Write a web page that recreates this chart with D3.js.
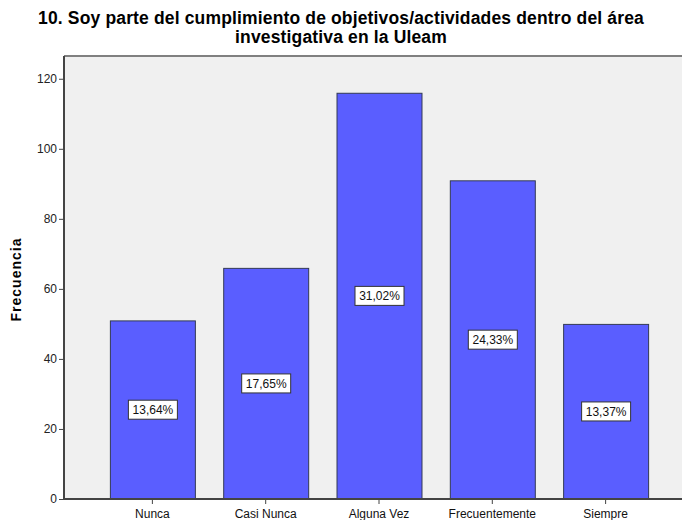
<!DOCTYPE html>
<html>
<head>
<meta charset="utf-8">
<script src="https://cdn.jsdelivr.net/npm/d3@7"></script>
<style>
html,body{margin:0;padding:0;background:#fff;}
svg{display:block;font-family:Arial,"Liberation Sans",sans-serif;}
</style>
</head>
<body>
<div id="chart"></div>
<script>
const categories = ["Nunca", "Casi Nunca", "Alguna Vez", "Frecuentemente", "Siempre"];
const counts = [51, 66, 116, 91, 50];
const percentLabels = ["13,64%", "17,65%", "31,02%", "24,33%", "13,37%"];
const yTicks = [0, 20, 40, 60, 80, 100, 120];
const titleLines = ["10. Soy parte del cumplimiento de objetivos/actividades dentro del área", "investigativa en la Uleam"];
const yTitle = "Frecuencia";

(function () {
const W = 682, H = 520;
const pL = 64, pT = 56, pB = 499, pR = 694;
const FF = "Arial, 'Liberation Sans', sans-serif";

const svg = d3.select("#chart").append("svg").attr("width", W).attr("height", H);

// plot background
svg.append("rect").attr("x", pL).attr("y", pT).attr("width", pR - pL).attr("height", pB - pT)
  .attr("fill", "#f0f0f0");
svg.append("line").attr("x1", pL).attr("x2", pR).attr("y1", pT).attr("y2", pT)
  .attr("stroke", "#808080").attr("stroke-width", 2);

const x = d3.scaleBand().domain(categories).range([pL, pR]).paddingInner(0.25).paddingOuter(0.405);
const y = d3.scaleLinear().domain([0, 126.5]).range([pB, pT]);

// bars
svg.append("g").selectAll("rect").data(categories).join("rect")
  .attr("x", d => x(d) + 0.5)
  .attr("y", (d, i) => y(counts[i]) + 0.5)
  .attr("width", x.bandwidth())
  .attr("height", (d, i) => y(0) - y(counts[i]))
  .attr("fill", "#5a5eff")
  .attr("stroke", "#333a55")
  .attr("stroke-width", 1);

// y axis
const yAxis = d3.axisLeft(y).tickValues(yTicks).tickSize(5).tickPadding(2).tickFormat(d3.format("d"));
const gy = svg.append("g").attr("transform", `translate(${pL},0)`).call(yAxis);
gy.select(".domain").attr("stroke", "#444").attr("stroke-width", 2).attr("d", `M0,${pT}V${pB}`);
gy.selectAll(".tick line").attr("stroke", "#444");
gy.selectAll(".tick text").attr("font-size", 12).attr("fill", "#222").attr("font-family", FF);

// x axis
const xAxis = d3.axisBottom(x).tickSize(5).tickPadding(5);
const gx = svg.append("g").attr("transform", `translate(0,${pB})`).call(xAxis);
gx.select(".domain").attr("stroke", "#444").attr("stroke-width", 2).attr("d", `M${pL},0H${pR}`);
gx.selectAll(".tick line").attr("stroke", "#444");
gx.selectAll(".tick text").attr("font-size", 12).attr("fill", "#111").attr("font-family", FF);

// percent labels
const lg = svg.append("g").selectAll("g").data(categories).join("g")
  .attr("transform", (d, i) => `translate(${x(d) + x.bandwidth() / 2 + 0.5},${(y(0) + y(counts[i])) / 2})`);
lg.append("rect").attr("x", -24.5).attr("y", -9.5).attr("width", 49).attr("height", 19)
  .attr("fill", "#fff").attr("stroke", "#333").attr("stroke-width", 1);
lg.append("text").attr("text-anchor", "middle").attr("dy", "0.35em").attr("font-size", 12).attr("fill", "#111")
  .text((d, i) => percentLabels[i]);

// title
svg.append("g").selectAll("text").data(titleLines).join("text")
  .attr("x", 341).attr("y", (d, i) => 24 + i * 19)
  .attr("text-anchor", "middle").attr("font-size", 17.5).attr("font-weight", "bold").attr("fill", "#000")
  .attr("letter-spacing", 0.15)
  .text(d => d);

// y title
svg.append("text").attr("transform", `translate(21,${(pT + pB) / 2 + 2}) rotate(-90)`)
  .attr("text-anchor", "middle").attr("font-size", 14).attr("font-weight", "bold").attr("fill", "#000")
  .attr("letter-spacing", 1)
  .text(yTitle);
})();
</script>
</body>
</html>
